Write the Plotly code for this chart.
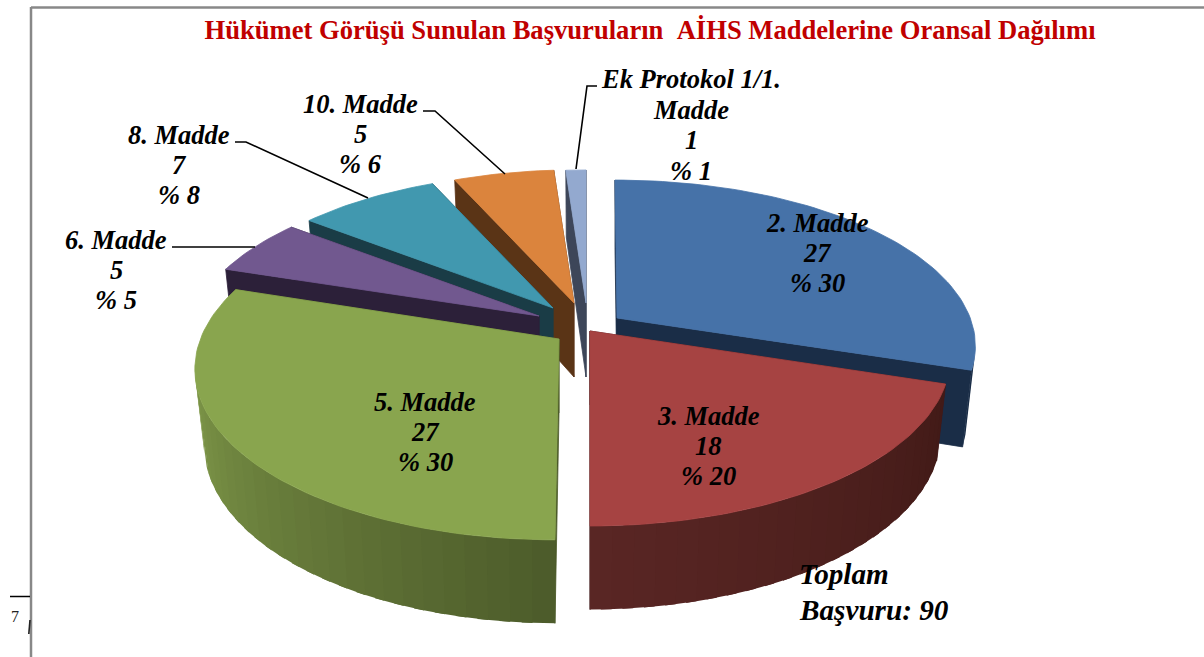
import math
import plotly.graph_objects as go

# --- data ---
categories = ["2. Madde", "3. Madde", "5. Madde", "6. Madde", "8. Madde", "10. Madde", "Ek Protokol 1/1.|Madde"]
counts = [27, 18, 27, 5, 7, 5, 1]
percents = [30, 20, 30, 5, 8, 6, 1]
title_text = "Hükümet Görüşü Sunulan Başvuruların \u00a0AİHS Maddelerine Oransal Dağılımı"
total_lines = ["Toplam", "Başvuru: 90"]

# --- layout / style (pixel-space axes) ---
W, H_PAGE = 1204, 657
apex_x = [617, 590, 559, 539, 553, 574, 586]
apex_y = [318, 331, 339, 316, 308, 303, 303]
scale_x = [0.995, 1.0, 1.01, 0.975, 0.96, 0.95, 0.95]
scale_y = [0.985, 1.0, 1.03, 0.975, 0.96, 0.95, 0.95]
lean = [-2, 0, 4, 0, 0, 0, 0]
top_col = ["#4672A8", "#A64342", "#89A54E", "#71588F", "#4198AF", "#DB843D", "#93A9CF"]
face_col = ["#1A2D47", "#42191A", "#4C5B2A", "#2C2039", "#1A3C46", "#5A3416", "#3D4659"]
wall_a = ["#1A2D47", "#411A17", "#4C5B2A", "#2C2039", "#1A3C46", "#5A3416", "#3D4659"]
wall_b = ["#1A2D47", "#5A2624", "#7F9849", "#2C2039", "#1A3C46", "#5A3416", "#3D4659"]
label_x = [817, 708, 425, 116, 179, 360, 691]
label_y = [253, 446, 432, 270, 165, 134, 125]
draw_order = [6, 5, 4, 3, 0, 2, 1]
leaders = [
    ([172, 255], [247, 247]),
    ([235, 246, 368], [142, 142, 198]),
    ([423, 435, 505], [111, 111, 174]),
    ([597, 587, 576], [86, 86, 169]),
]

F, G, K, DEPTH, SHRINK = 355.0, 163.0, 0.164, 74.0, 0.975
LINE_GAP = 30.4


def rim(theta, i, bottom=False):
    t = math.radians(theta)
    c = math.cos(t)
    s = 1.0 / (1.0 + K * c)
    f = SHRINK if bottom else 1.0
    x = apex_x[i] + F * scale_x[i] * math.sin(t) * s * f + lean[i] * c
    y = apex_y[i] - G * scale_y[i] * c * s * f + (DEPTH * s if bottom else 0.0)
    return x, y


def mix(a, b, u):
    pa = [int(a[j:j + 2], 16) for j in (1, 3, 5)]
    pb = [int(b[j:j + 2], 16) for j in (1, 3, 5)]
    return "rgb(%d,%d,%d)" % tuple(round(p + (q - p) * u) for p, q in zip(pa, pb))


def poly(fig, pts, color, name, lw=0.8):
    fig.add_trace(go.Scatter(
        x=[p[0] for p in pts] + [pts[0][0]],
        y=[p[1] for p in pts] + [pts[0][1]],
        mode="lines", fill="toself", fillcolor=color,
        line=dict(color=color, width=lw),
        name=name, showlegend=False, hoverinfo="skip",
    ))


fig = go.Figure()
total = sum(counts)
bounds = [0.0]
for v in counts:
    bounds.append(bounds[-1] + 360.0 * v / total)

WALL_START = 100.0   # rim faces the viewer between these angles
WALL_END = 260.0

for i in draw_order:
    t1, t2 = bounds[i], bounds[i + 1]
    name = categories[i].replace("|", " ")
    top_a = (apex_x[i], apex_y[i])
    bot_a = (apex_x[i], apex_y[i] + DEPTH)
    for th in (t2, t1):
        poly(fig, [top_a, rim(th, i), rim(th, i, True), bot_a], face_col[i], name)
    lo, hi = max(t1, WALL_START), min(t2, WALL_END)
    if hi > lo:
        n = max(1, int((hi - lo) / 3))
        for k in range(n):
            a = lo + (hi - lo) * k / n
            b = min(hi, lo + (hi - lo) * (k + 1) / n + 1.5)   # slight overlap hides seams
            arc = [a + (b - a) * q / 4 for q in range(5)]
            pts = [rim(q, i) for q in arc] + [rim(q, i, True) for q in reversed(arc)]
            col = mix(wall_a[i], wall_b[i], (k + 0.5) / n)
            poly(fig, pts, col, name, lw=0)
    steps = max(6, int((t2 - t1) / 1.5))
    arc = [rim(t1 + (t2 - t1) * k / steps, i) for k in range(steps + 1)]
    poly(fig, [top_a] + arc, top_col[i], name)

for xs, ys in leaders:
    fig.add_trace(go.Scatter(x=xs, y=ys, mode="lines", line=dict(color="black", width=1.6),
                             showlegend=False, hoverinfo="skip"))

lab_font = dict(family="Liberation Serif", size=26.5, color="black", weight="bold", style="italic")
for i, cat in enumerate(categories):
    lines = cat.split("|") + [str(counts[i]), f"% {percents[i]}"]
    for k, line in enumerate(lines):
        fig.add_annotation(x=label_x[i], y=label_y[i] + (k - (len(lines) - 1) / 2) * LINE_GAP, text=line,
                           showarrow=False, xanchor="center", yanchor="middle", align="center", font=lab_font)
for line, yy in zip(total_lines, (574, 610)):
    fig.add_annotation(x=797, y=yy, text=line, showarrow=False, xanchor="left", yanchor="middle",
                       font=dict(family="Liberation Serif", size=29.2, color="black", weight="bold", style="italic"))
fig.add_annotation(x=9, y=616, text="7", showarrow=False, xanchor="left", yanchor="middle",
                   font=dict(family="Liberation Serif", size=16, color="#222222"))

frame = dict(color="#888888", width=2.5)
fig.update_layout(
    width=W, height=H_PAGE,
    margin=dict(l=0, r=0, t=0, b=0),
    paper_bgcolor="white", plot_bgcolor="white",
    showlegend=False,
    title=dict(text=title_text, x=650 / W, xanchor="center", xref="paper", y=1 - 30 / H_PAGE, yanchor="middle",
               yref="paper", font=dict(family="Liberation Serif", size=26.6, color="#C00000", weight="bold")),
    xaxis=dict(range=[0, W], visible=False, fixedrange=True),
    yaxis=dict(range=[H_PAGE, 0], visible=False, fixedrange=True),
    shapes=[
        dict(type="line", x0=31, x1=W, y0=7.5, y1=7.5, xref="x", yref="y", line=frame),
        dict(type="line", x0=31, x1=31, y0=7, y1=H_PAGE, xref="x", yref="y", line=frame),
        dict(type="line", x0=10, x1=30, y0=596.5, y1=596.5, xref="x", yref="y", line=dict(color="black", width=1.5)),
        dict(type="line", x0=30, x1=28.8, y0=620, y1=634, xref="x", yref="y", line=dict(color="#222222", width=1.6)),
    ],
)
fig.write_html("out.html", config={"displayModeBar": False},
               post_script="document.body.style.margin='0';document.body.style.overflow='hidden';")
